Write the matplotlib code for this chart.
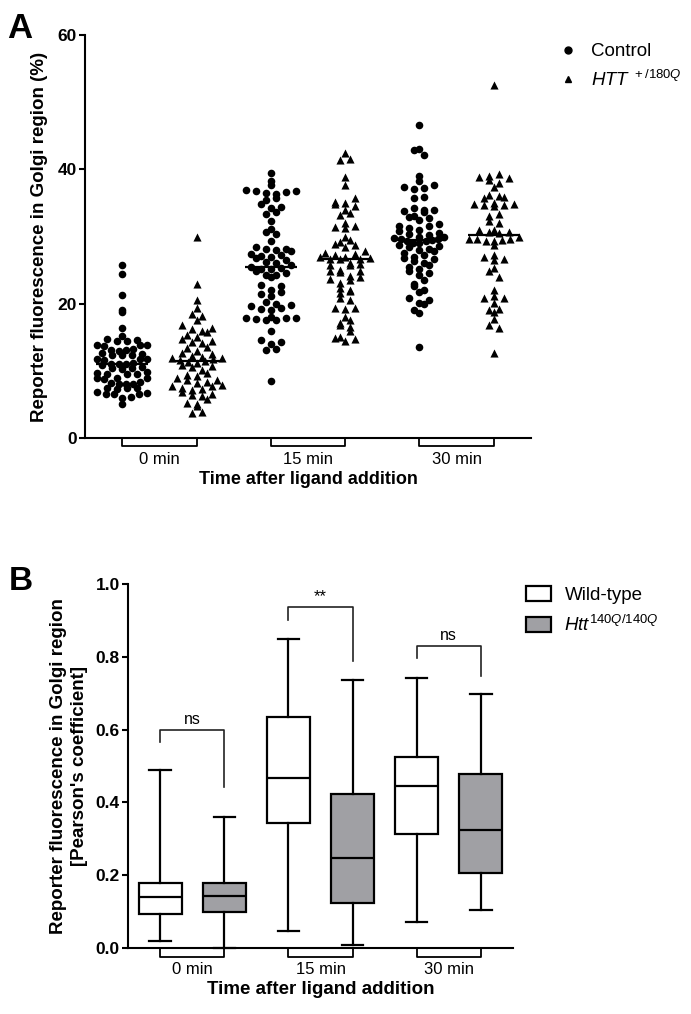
import numpy as np
import matplotlib

matplotlib.use("Agg")
import matplotlib.pyplot as plt
from matplotlib.lines import Line2D
from matplotlib.patches import Patch

plt.rcParams["font.family"] = ["Liberation Sans", "DejaVu Sans"]
plt.rcParams["mathtext.fontset"] = "custom"
plt.rcParams["mathtext.it"] = "Liberation Sans:italic"
plt.rcParams["mathtext.rm"] = "Liberation Sans"

# ---- panel A data: reporter fluorescence (%) per cell
groups_a = ["0 min", "15 min", "30 min"]
ctrl_0 = [25.8, 24.4, 21.3, 19.0, 18.7, 16.4, 15.2,
          14.6, 14.5, 14.7, 14.4, 13.8, 13.9, 13.7, 13.8,
          13.1, 13.2, 13.0, 13.1, 12.4, 12.5, 12.3, 12.4, 12.6,
          11.7, 11.8, 11.6, 11.7, 11.0, 11.1, 10.9, 11.0, 11.0,
          10.4, 10.3, 10.5, 10.4, 9.6, 9.7, 9.5, 9.6, 9.8,
          8.9, 9.0, 8.8, 8.9, 8.1, 8.2, 8.0, 8.1, 8.3,
          7.4, 7.5, 7.3, 7.4, 6.6, 6.7, 6.5, 6.6, 6.8,
          6.1, 6.0, 5.1]
htt_0 = [30.0, 23.0, 20.5, 19.4, 18.5, 18.1, 17.5, 16.8, 16.4, 16.2,
         16.0, 15.8, 15.3, 15.0, 14.8, 14.4, 14.3, 14.1, 13.5, 13.4,
         13.0, 12.7, 12.5, 12.2, 12.0, 11.9, 11.9, 11.7, 11.6, 11.5,
         11.3, 11.1, 10.8, 10.7, 10.5, 10.1, 9.7, 9.4, 9.2, 8.9,
         8.7, 8.6, 8.4, 8.2, 7.9, 7.8, 7.7, 7.5, 7.3, 7.1,
         6.8, 6.6, 6.4, 6.2, 5.8, 5.2, 5.0, 4.8, 3.9, 3.7]
ctrl_15 = [39.4, 38.2, 37.6, 36.9, 36.7, 36.6, 36.5, 36.8, 36.4, 35.7,
           35.4, 34.8, 34.4, 34.3, 33.7, 33.3, 32.3, 31.1, 30.7, 30.3,
           29.3, 28.4, 28.2, 28.1, 28.0, 27.9, 27.4, 27.2, 27.1, 27.0,
           26.8, 26.5, 26.2, 26.0, 25.8, 25.5,
           25.3, 25.2, 25.1, 24.8, 24.5, 24.3, 24.2, 23.9, 22.8, 22.6,
           22.0, 21.7, 21.4, 21.2, 20.3, 20.0, 19.8, 19.6, 19.4, 19.2,
           19.0, 18.0, 17.9, 17.8, 17.8, 17.7, 17.6, 17.5, 15.9, 14.6,
           14.3, 14.0, 13.3, 13.1, 8.5]
htt_15 = [42.4, 41.5, 41.4, 38.9, 37.6, 35.7, 35.2, 35.0, 34.9, 34.5,
          34.0, 33.5, 33.2, 32.0, 31.6, 31.4, 31.3, 30.0, 29.5, 29.2,
          28.9, 28.7, 28.4, 27.8, 27.6, 27.4, 27.2, 27.0, 26.9, 26.8,
          26.7, 26.7, 26.6,
          26.0, 25.9, 25.8, 25.7, 25.0, 24.9, 24.8, 24.7, 24.1, 23.9,
          23.6, 23.5, 23.1, 22.3, 22.1, 21.9, 21.6, 20.8, 20.5, 19.4,
          19.3, 19.2, 18.0, 17.6, 17.1, 16.8, 16.5, 15.9, 15.0, 14.9,
          14.7, 14.5]
ctrl_30 = [46.6, 43.0, 42.9, 42.1, 39.0, 38.2, 37.6, 37.4, 37.2, 37.0,
           35.9, 35.7, 34.2, 34.0, 33.9, 33.8, 33.6, 33.0, 32.9, 32.7,
           32.5, 31.8, 31.6, 31.5, 31.3, 31.0, 30.8, 30.5, 30.4, 30.2,
           30.0, 29.9, 29.8, 29.7, 29.6, 29.5,
           29.4, 29.3, 29.1, 29.0, 28.8, 28.6, 28.4, 28.2, 28.0, 27.8,
           27.5, 27.3, 27.0, 26.8, 26.6, 26.3, 26.0, 25.8, 25.5, 25.2,
           24.9, 24.6, 24.2, 23.5, 23.0, 22.6, 22.0, 21.7, 20.8, 20.5,
           20.1, 19.9, 19.1, 18.6, 13.5]
htt_30 = [52.6, 39.3, 39.0, 38.9, 38.7, 38.4, 38.0, 37.3, 36.2, 36.0,
          35.9, 35.8, 35.0, 34.9, 34.8, 34.7, 34.7, 34.6, 33.3, 33.1,
          32.3, 32.0, 31.0, 30.9, 30.7, 30.6, 30.5, 29.9,
          29.7, 29.6, 29.6, 29.5, 29.4, 29.3, 28.7, 27.2, 26.9, 26.7,
          26.5, 25.3, 24.8, 24.0, 22.0, 21.1, 20.9, 20.8, 20.1, 19.2,
          19.0, 18.8, 17.7, 16.8, 16.4, 12.6]

# ---- panel B data: Pearson's coefficient box summaries
groups_b = ["0 min", "15 min", "30 min"]
wt_whislo = [0.019, 0.048, 0.072]
wt_q1 = [0.093, 0.344, 0.313]
wt_med = [0.139, 0.466, 0.445]
wt_q3 = [0.178, 0.635, 0.526]
wt_whishi = [0.489, 0.848, 0.741]
mut_whislo = [0.0, 0.008, 0.104]
mut_q1 = [0.098, 0.124, 0.207]
mut_med = [0.143, 0.246, 0.324]
mut_q3 = [0.179, 0.422, 0.477]
mut_whishi = [0.361, 0.736, 0.697]
sig_labels = ["ns", "**", "ns"]
sig_top = [0.599, 0.938, 0.830]
sig_left_end = [0.565, 0.901, 0.796]
sig_right_end = [0.441, 0.789, 0.747]

W, H = 691, 1014
GRAY = "#a0a0a4"


def row_offsets(vals, xpx, bin_h=1.0, step=10.0, max_half=25.0):
    # Prism-like scatter: points falling in the same value bin are spread
    # side by side; returns x offsets in data units
    vals = np.asarray(vals, dtype=float)
    offs = np.zeros(len(vals))
    bins = np.floor(vals / bin_h).astype(int)
    for b in np.unique(bins):
        idx = np.where(bins == b)[0]
        idx = idx[np.argsort(vals[idx])]
        n = len(idx)
        sp = step if n < 2 else min(step, 2 * max_half / (n - 1))
        slots = (np.arange(n) - (n - 1) / 2.0) * sp
        # fill from the centre outwards, alternating sides
        slots = slots[np.argsort(np.abs(slots) + 1e-3 * np.sign(slots) * (b % 2 * 2 - 1))]
        offs[idx] = slots / xpx
    return offs


fig = plt.figure(figsize=(W / 100, H / 100), dpi=100)

# ================= panel A =================
axA = fig.add_axes([85 / W, 1 - 438 / H, 446 / W, 403 / H])
xpx_a = 446 / 6.0
series_a = [ctrl_0, htt_0, ctrl_15, htt_15, ctrl_30, htt_30]
for k, vals in enumerate(series_a):
    pos = k + 1
    xs = pos + row_offsets(vals, xpx_a)
    if k % 2 == 0:
        axA.scatter(xs, vals, s=30, marker="o", color="black", lw=0, clip_on=False, zorder=2)
    else:
        axA.scatter(xs, vals, s=34, marker="^", color="black", lw=0, clip_on=False, zorder=2)
    axA.hlines(np.median(vals), pos - 0.35, pos + 0.35, color="black", lw=1.6, zorder=3)

axA.set_xlim(0.5, 6.5)
axA.set_ylim(0, 60)
for s in ("top", "right"):
    axA.spines[s].set_visible(False)
for s in ("left", "bottom"):
    axA.spines[s].set_linewidth(1.5)
axA.set_yticks([0, 20, 40, 60])
axA.tick_params(axis="y", length=4, width=1.5, labelsize=12.5, pad=2)
for t in axA.get_yticklabels():
    t.set_fontweight("bold")
axA.set_xticks([1.5, 3.5, 5.5])
axA.set_xticklabels(groups_a)
axA.tick_params(axis="x", length=0, labelsize=12, pad=10)
for c in (1, 3, 5):
    axA.plot([c, c, c + 1, c + 1], [0, -1.2, -1.2, 0], color="black", lw=1.3, clip_on=False)
axA.set_xlabel("Time after ligand addition", fontsize=13, fontweight="bold", labelpad=3)
axA.set_ylabel("Reporter fluorescence in Golgi region (%)", fontsize=13.5, fontweight="bold")
axA.yaxis.set_label_coords(-0.083, 0.5)

handles_a = [
    Line2D([], [], ls="", marker="o", color="black", ms=5),
    Line2D([], [], ls="", marker="^", color="black", ms=5),
]
fig.legend(handles_a, ["Control", r"$\mathit{HTT}^{\mathit{\ +/180Q}}$"],
           loc="upper left", bbox_to_anchor=(556 / W, 1 - 43 / H), frameon=False,
           fontsize=13.5, handlelength=1.3, handletextpad=0.55, labelspacing=0.5,
           borderpad=0, borderaxespad=0)

# ================= panel B =================
axB = fig.add_axes([128 / W, 1 - 948 / H, 385 / W, 364 / H])
stats = []
for i in range(3):
    stats.append(dict(med=wt_med[i], q1=wt_q1[i], q3=wt_q3[i],
                      whislo=wt_whislo[i], whishi=wt_whishi[i], fliers=[]))
    stats.append(dict(med=mut_med[i], q1=mut_q1[i], q3=mut_q3[i],
                      whislo=mut_whislo[i], whishi=mut_whishi[i], fliers=[]))
bp = axB.bxp(stats, positions=range(1, 7), widths=0.67, patch_artist=True,
             showfliers=False,
             boxprops=dict(linewidth=1.6, edgecolor="black"),
             whiskerprops=dict(linewidth=1.6, color="black"),
             capprops=dict(linewidth=1.6, color="black"),
             medianprops=dict(linewidth=1.6, color="black"))
for j, box in enumerate(bp["boxes"]):
    box.set_facecolor("white" if j % 2 == 0 else GRAY)
for art in bp["caps"] + bp["whiskers"]:
    art.set_clip_on(False)

axB.set_xlim(0.5, 6.5)
axB.set_ylim(0, 1.0)
for s in ("top", "right"):
    axB.spines[s].set_visible(False)
for s in ("left", "bottom"):
    axB.spines[s].set_linewidth(1.5)
axB.set_yticks(np.arange(0, 1.01, 0.2))
axB.set_yticklabels([f"{v:.1f}" for v in np.arange(0, 1.01, 0.2)])
axB.tick_params(axis="y", length=4, width=1.5, labelsize=12.5, pad=2)
for t in axB.get_yticklabels():
    t.set_fontweight("bold")
axB.set_xticks([1.5, 3.5, 5.5])
axB.set_xticklabels(groups_b)
axB.tick_params(axis="x", length=0, labelsize=12, pad=10)
for c in (1, 3, 5):
    axB.plot([c, c, c + 1, c + 1], [0, -0.024, -0.024, 0], color="black", lw=1.3, clip_on=False)
axB.set_xlabel("Time after ligand addition", fontsize=13.5, fontweight="bold", labelpad=3)
axB.set_ylabel("Reporter fluorescence in Golgi region\n[Pearson's coefficient]",
               fontsize=13.5, fontweight="bold", linespacing=1.3)
axB.yaxis.set_label_coords(-0.104, 0.5)

for i, lab in enumerate(sig_labels):
    l, r = 2 * i + 1, 2 * i + 2
    axB.plot([l, l, r, r], [sig_left_end[i], sig_top[i], sig_top[i], sig_right_end[i]],
             color="#222222", lw=1.2)
    axB.text((l + r) / 2, sig_top[i] + 0.008, lab, ha="center", va="bottom",
             fontsize=12 if lab == "**" else 11.5)

handles_b = [
    Patch(facecolor="white", edgecolor="black", lw=1.6),
    Patch(facecolor=GRAY, edgecolor="black", lw=1.6),
]
fig.legend(handles_b, ["Wild-type", r"$\mathit{Htt}^{\mathit{140Q/140Q}}$"],
           loc="upper left", bbox_to_anchor=(526 / W, 1 - 586 / H), frameon=False,
           fontsize=13.5, handlelength=1.35, handleheight=0.85, handletextpad=0.7,
           labelspacing=0.6, borderpad=0, borderaxespad=0)

fig.text(7 / W, 1 - 12 / H, "A", fontsize=25, fontweight="bold", va="top", ha="left")
fig.text(9 / W, 1 - 566 / H, "B", fontsize=24, fontweight="bold", va="top", ha="left")

fig.savefig("out.png", dpi=100)
